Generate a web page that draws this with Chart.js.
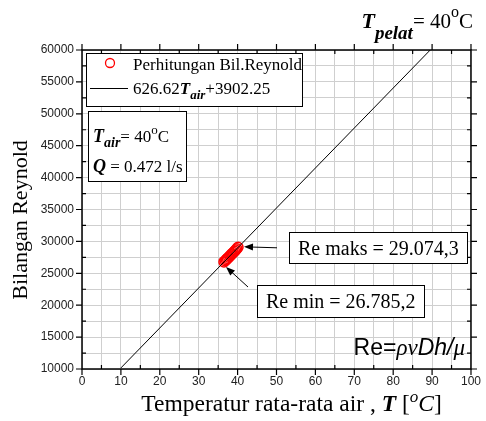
<!DOCTYPE html>
<html>
<head>
<meta charset="utf-8">
<script src="https://cdn.jsdelivr.net/npm/chart.js@4.4.1/dist/chart.umd.min.js"></script>
<style>
  html, body { margin: 0; padding: 0; background: #fff; }
  #wrap { width: 486px; height: 421px; }
</style>
</head>
<body>
<div id="wrap"><canvas id="reChart" width="486" height="421"></canvas></div>
<script>
// measured points (water temperature vs Reynold number)
const tempAir = [36.5, 36.8, 37.1, 37.4, 37.7, 38.0, 38.3, 38.6, 38.9, 39.2, 39.5, 39.8, 40.1];
const reynold = [26785, 26960, 27150, 27330, 27520, 27700, 27890, 28080, 28260, 28450, 28640, 28840, 29074];

// fitted line 626.62 T + 3902.25, end points as drawn
const fitT = [10, 89.52];
const fitRe = [10168.5, 60000];

const xMajor = [0, 10, 20, 30, 40, 50, 60, 70, 80, 90, 100];
const yMajor = [10000, 15000, 20000, 25000, 30000, 35000, 40000, 45000, 50000, 55000, 60000];

const serif = '"Liberation Serif", "Times New Roman", serif';
const sans = '"Liberation Sans", Arial, sans-serif';

// draw a list of text runs, each with its own font and baseline shift
function runsWidth(ctx, runs) {
  let w = 0;
  runs.forEach(r => { ctx.font = r.font; w += ctx.measureText(r.t).width; });
  return w;
}
function drawRuns(ctx, x, y, runs, align) {
  const w = runsWidth(ctx, runs);
  if (align === 'right') x -= w;
  if (align === 'center') x -= w / 2;
  ctx.textAlign = 'left';
  ctx.textBaseline = 'alphabetic';
  runs.forEach(r => {
    ctx.font = r.font;
    ctx.fillText(r.t, x, y + (r.dy || 0));
    x += ctx.measureText(r.t).width;
  });
}
function arrow(ctx, x1, y1, x2, y2) {
  const a = Math.atan2(y2 - y1, x2 - x1);
  ctx.beginPath();
  ctx.moveTo(x1, y1);
  ctx.lineTo(x2 - 6 * Math.cos(a), y2 - 6 * Math.sin(a));
  ctx.stroke();
  ctx.beginPath();
  ctx.moveTo(x2, y2);
  ctx.lineTo(x2 - 9 * Math.cos(a) + 3.5 * Math.sin(a), y2 - 9 * Math.sin(a) - 3.5 * Math.cos(a));
  ctx.lineTo(x2 - 9 * Math.cos(a) - 3.5 * Math.sin(a), y2 - 9 * Math.sin(a) + 3.5 * Math.cos(a));
  ctx.closePath();
  ctx.fill();
}

const decorations = {
  id: 'decorations',
  afterDraw(chart) {
    const ctx = chart.ctx;
    const area = chart.chartArea;
    const xs = chart.scales.x, ys = chart.scales.y;
    ctx.save();
    ctx.strokeStyle = '#000';
    ctx.fillStyle = '#000';

    // frame
    ctx.lineWidth = 1.5;
    ctx.strokeRect(area.left, area.top, area.right - area.left, area.bottom - area.top);

    // ticks: major outward, minor inward
    ctx.lineWidth = 1.2;
    ctx.beginPath();
    for (let v = 0; v <= 100; v += 5) {
      const px = xs.getPixelForValue(v);
      const major = v % 10 === 0;
      const len = major ? 6 : -4;
      ctx.moveTo(px, area.bottom); ctx.lineTo(px, area.bottom + len);
      ctx.moveTo(px, area.top); ctx.lineTo(px, area.top - len);
    }
    for (let v = 10000; v <= 60000; v += 2500) {
      const py = ys.getPixelForValue(v);
      const major = v % 5000 === 0;
      const len = major ? 6 : -4;
      ctx.moveTo(area.left, py); ctx.lineTo(area.left - len, py);
      ctx.moveTo(area.right, py); ctx.lineTo(area.right + len, py);
    }
    ctx.stroke();

    // legend box
    ctx.fillStyle = '#fff';
    ctx.fillRect(86, 53, 216, 53);
    ctx.lineWidth = 1;
    ctx.strokeRect(86.5, 53.5, 216, 53);
    ctx.fillStyle = '#000';
    ctx.strokeStyle = '#ff0000';
    ctx.lineWidth = 1.3;
    ctx.beginPath();
    ctx.arc(110, 63, 4.5, 0, Math.PI * 2);
    ctx.stroke();
    ctx.strokeStyle = '#000';
    ctx.lineWidth = 1;
    ctx.beginPath();
    ctx.moveTo(90, 88.5); ctx.lineTo(128, 88.5);
    ctx.stroke();
    drawRuns(ctx, 133, 70, [{ t: 'Perhitungan Bil.Reynold', font: '17px ' + serif }]);
    drawRuns(ctx, 133, 94, [
      { t: '626.62', font: '17px ' + serif },
      { t: 'T', font: 'italic bold 17px ' + serif },
      { t: 'air', font: 'italic bold 13px ' + serif, dy: 5 },
      { t: '+3902.25', font: '17px ' + serif }
    ]);

    // info box
    ctx.fillStyle = '#fff';
    ctx.fillRect(88, 111, 98, 70);
    ctx.strokeRect(88.5, 111.5, 98, 70);
    ctx.fillStyle = '#000';
    drawRuns(ctx, 93, 142, [
      { t: 'T', font: 'italic bold 18px ' + serif },
      { t: 'air', font: 'italic bold 14px ' + serif, dy: 5 },
      { t: '= 40', font: '17px ' + serif },
      { t: 'o', font: '13px ' + serif, dy: -8 },
      { t: 'C', font: '17px ' + serif }
    ]);
    drawRuns(ctx, 93, 172, [
      { t: 'Q', font: 'italic bold 18px ' + serif },
      { t: ' = 0.472 l/s', font: '17px ' + serif }
    ]);

    // annotation boxes with arrows to the extreme points
    const last = reynold.length - 1;
    const pMaxX = xs.getPixelForValue(tempAir[last]);
    const pMaxY = ys.getPixelForValue(reynold[last]);
    const pMinX = xs.getPixelForValue(tempAir[0]);
    const pMinY = ys.getPixelForValue(reynold[0]);
    ctx.lineWidth = 1;
    ctx.fillStyle = '#fff';
    ctx.fillRect(289, 232, 178, 31);
    ctx.strokeRect(289.5, 232.5, 178, 31);
    ctx.fillRect(257, 285, 167, 32);
    ctx.strokeRect(257.5, 285.5, 167, 32);
    ctx.fillStyle = '#000';
    drawRuns(ctx, 298, 255, [{ t: 'Re maks = 29.074,3', font: '20px ' + serif }]);
    drawRuns(ctx, 266, 308, [{ t: 'Re min = 26.785,2', font: '20px ' + serif }]);
    arrow(ctx, 277, pMaxY + 0.5, pMaxX + 6, pMaxY - 0.5);
    arrow(ctx, 248, 287, pMinX + 2, pMinY + 5);

    // formula
    drawRuns(ctx, 465, 355, [
      { t: 'Re=', font: '23px ' + sans },
      { t: 'ρν', font: 'italic 23px ' + serif },
      { t: 'Dh/', font: 'italic 23px ' + sans },
      { t: 'μ', font: 'italic 23px ' + serif }
    ], 'right');

    // title
    drawRuns(ctx, 473, 28, [
      { t: 'T', font: 'italic bold 22px ' + serif },
      { t: 'pelat', font: 'italic bold 19px ' + serif, dy: 11 },
      { t: '= 40', font: '21px ' + serif },
      { t: 'o', font: '16px ' + serif, dy: -11 },
      { t: 'C', font: '21px ' + serif }
    ], 'right');

    // x axis title
    drawRuns(ctx, (area.left + area.right) / 2 + 15, 411, [
      { t: 'Temperatur rata-rata air , ', font: '23.5px ' + serif },
      { t: 'T', font: 'italic bold 23.5px ' + serif },
      { t: ' [', font: '23.5px ' + serif },
      { t: 'o', font: 'italic 17px ' + serif, dy: -9 },
      { t: 'C', font: 'italic 23.5px ' + serif },
      { t: ']', font: '23.5px ' + serif }
    ], 'center');

    // y axis title
    ctx.save();
    ctx.translate(27, 220);
    ctx.rotate(-Math.PI / 2);
    drawRuns(ctx, 0, 0, [{ t: 'Bilangan Reynold', font: '22px ' + serif }], 'center');
    ctx.restore();

    ctx.restore();
  }
};

const ctx = document.getElementById('reChart');
new Chart(ctx, {
  type: 'scatter',
  data: {
    datasets: [
      {
        label: '626.62Tair+3902.25',
        data: fitT.map((t, i) => ({ x: t, y: fitRe[i] })),
        showLine: true,
        borderColor: '#000',
        borderWidth: 1,
        pointRadius: 0,
        fill: false
      },
      {
        label: 'Perhitungan Bil.Reynold',
        data: tempAir.map((t, i) => ({ x: t, y: reynold[i] })),
        pointStyle: 'circle',
        pointRadius: 5,
        borderColor: '#ff0000',
        borderWidth: 1.5,
        backgroundColor: 'rgba(0,0,0,0)'
      }
    ]
  },
  options: {
    responsive: false,
    animation: false,
    devicePixelRatio: 1,
    layout: { padding: { top: 50, right: 13, left: 0, bottom: 0 } },
    plugins: {
      legend: { display: false },
      tooltip: { enabled: false }
    },
    scales: {
      x: {
        type: 'linear',
        min: 0,
        max: 100,
        afterFit: s => { s.height = 52; },
        grid: { color: '#cfcfcf', lineWidth: 1, drawTicks: false },
        border: { display: false },
        ticks: {
          stepSize: 5,
          autoSkip: false,
          maxRotation: 0,
          padding: 5,
          color: '#222',
          font: { family: sans, size: 12 },
          callback: v => (xMajor.includes(v) ? v : '')
        }
      },
      y: {
        min: 10000,
        max: 60000,
        afterFit: s => { s.width = 82; },
        grid: { color: '#cfcfcf', lineWidth: 1, drawTicks: false },
        border: { display: false },
        ticks: {
          stepSize: 2500,
          autoSkip: false,
          padding: 8,
          color: '#222',
          font: { family: sans, size: 12 },
          callback: v => (yMajor.includes(v) ? v : '')
        }
      }
    }
  },
  plugins: [decorations]
});
</script>
</body>
</html>
